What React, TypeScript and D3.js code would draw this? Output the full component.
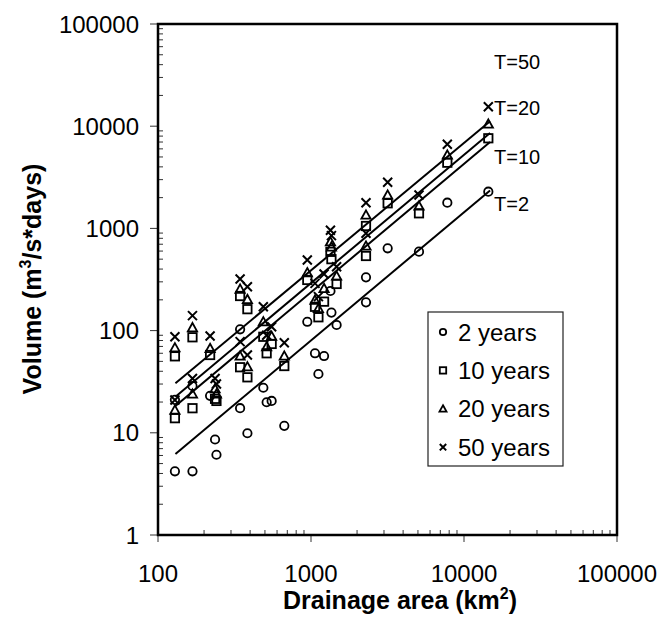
import React from 'react';
import * as d3 from 'd3';

const W = 664, H = 636;

// Tick labels
const xTickValues = [100, 1000, 10000, 100000];
const yTickValues = [1, 10, 100, 1000, 10000, 100000];

// Drainage area of each site (km2)
const areas = [129, 129, 168, 168, 219, 236, 241, 344, 344, 384, 384, 488, 513, 553, 669, 946, 1062, 1118, 1217, 1340, 1360, 1470, 2288, 2288, 3170, 5080, 7780, 14420];
// Volumes (m3/s*days) per return period
const yr2 = [21, 4.2, 28.7, 4.2, 23, 8.6, 6.1, 103, 17.4, null, 9.9, 27.6, 19.9, 20.5, 11.7, 122, 60, 37.6, 56.4, 244, 150, 113.5, 332, 189, 639, 592, 1785, 2287];
const yr10 = [56, 13.9, 86, 17.4, 57.7, 21.5, 20.5, 218, 43.8, 162, 34.9, 87, 60, 74, 45, 313, 171, 135, 192, 590, 500, 286, 1056, 537, 1761, 1405, 4396, 7620];
const yr20 = [68, 16.7, 107, 24, 67, 27, 24, 255, 56.4, 202, 44.3, 122, 69.6, 88, 56.4, 369, 199, 165, 259, 740, 660, 342, 1352, 673, 2122, 1656, 5225, 10510];
const yr50 = [87, 20.9, 140, 34, 88.5, 34, 30, 320, 78, 269, 57.7, 171, 90, 109, 76, 491, 290, 215, 358, 960, 850, 422, 1785, 896, 2825, 2122, 6650, 15520];

// Fitted lines (end points)
const lineAreas = [130, 14800];
const fit2 = [6.2, 2350];
const fit10 = [18.3, 7000];
const fit20 = [22.5, 8600];
const fit50 = [30.5, 11200];

const lineLabels = ['T=50', 'T=20', 'T=10', 'T=2'];
const lineLabelY = [62, 108, 157, 204];

const legendLabels = ['2 years', '10 years', '20 years', '50 years'];

type Shape = 'circle' | 'square' | 'triangle' | 'cross';

function marker(shape: Shape, cx: number, cy: number, s: number, key: string | number) {
  const common = { fill: 'none', stroke: '#000', strokeWidth: 1.8 } as const;
  if (shape === 'circle') return <circle key={key} cx={cx} cy={cy} r={s} {...common} />;
  if (shape === 'square') return <rect key={key} x={cx - s} y={cy - s} width={2 * s} height={2 * s} {...common} />;
  if (shape === 'triangle') {
    const h = s * 1.1;
    return <path key={key} d={`M${cx},${cy - h} L${cx + s * 1.1},${cy + h * 0.8} L${cx - s * 1.1},${cy + h * 0.8} Z`} {...common} strokeLinejoin="miter" />;
  }
  return <path key={key} d={`M${cx - s},${cy - s} L${cx + s},${cy + s} M${cx - s},${cy + s} L${cx + s},${cy - s}`} fill="none" stroke="#000" strokeWidth={2} />;
}

export default function App() {
  const x = d3.scaleLog().domain([100, 100000]).range([158, 617]);
  const y = d3.scaleLog().domain([1, 100000]).range([535, 24]);

  const series: { vals: (number | null)[]; shape: Shape }[] = [
    { vals: yr2, shape: 'circle' },
    { vals: yr10, shape: 'square' },
    { vals: yr20, shape: 'triangle' },
    { vals: yr50, shape: 'cross' },
  ];
  const fits = [fit50, fit20, fit10, fit2];

  const xMinor: number[] = [];
  for (let d = 100; d < 100000; d *= 10) for (let k = 2; k <= 9; k++) xMinor.push(d * k);
  const yMinor: number[] = [];
  for (let d = 1; d < 100000; d *= 10) for (let k = 2; k <= 9; k++) yMinor.push(d * k);

  const line = d3.line<[number, number]>().x(d => x(d[0])).y(d => y(d[1]));
  const font = 'Liberation Sans, Arial, sans-serif';

  return (
    <svg width={W} height={H} style={{ position: 'absolute', left: 0, top: 0, background: '#fff' }} fontFamily={font}>
      <rect x={0} y={0} width={W} height={H} fill="#fff" />
      {/* minor ticks */}
      {xMinor.map((v, i) => (
        <line key={'xm' + i} x1={x(v)} x2={x(v)} y1={535} y2={530} stroke="#333" strokeWidth={1} />
      ))}
      {yMinor.map((v, i) => (
        <line key={'ym' + i} x1={158} x2={163} y1={y(v)} y2={y(v)} stroke="#333" strokeWidth={1} />
      ))}
      {/* major ticks */}
      {xTickValues.map((v, i) => (
        <line key={'xM' + i} x1={x(v)} x2={x(v)} y1={535} y2={542} stroke="#333" strokeWidth={1} />
      ))}
      {yTickValues.map((v, i) => (
        <line key={'yM' + i} x1={150} x2={158} y1={y(v)} y2={y(v)} stroke="#333" strokeWidth={1} />
      ))}
      {/* frame */}
      <rect x={158} y={24} width={459} height={511} fill="none" stroke="#000" strokeWidth={2.5} />
      {/* tick labels */}
      {xTickValues.map((v, i) => (
        <text key={'xl' + i} x={x(v)} y={582} textAnchor="middle" fontSize={24}>{String(v)}</text>
      ))}
      {yTickValues.map((v, i) => (
        <text key={'yl' + i} x={139} y={y(v)} dy="0.36em" textAnchor="end" fontSize={24}>{String(v)}</text>
      ))}
      {/* fitted lines */}
      {fits.map((f, i) => (
        <path key={'fit' + i} d={line([[lineAreas[0], f[0]], [lineAreas[1], f[1]]]) || ''} fill="none" stroke="#000" strokeWidth={2} />
      ))}
      {/* points */}
      {series.map((s, si) =>
        s.vals.map((v, i) => (v == null ? null : marker(s.shape, x(areas[i]), y(v), s.shape === 'cross' ? 4.5 : 4.2, `p${si}-${i}`)))
      )}
      {/* line labels */}
      {lineLabels.map((t, i) => (
        <text key={'tl' + i} x={494} y={lineLabelY[i]} dy="0.36em" fontSize={20}>{t}</text>
      ))}
      {/* legend */}
      <rect x={428} y={312} width={135} height={154} fill="#fff" stroke="#222" strokeWidth={1.2} />
      {legendLabels.map((t, i) => (
        <g key={'lg' + i}>
          {marker(series[i].shape, 443, 332 + i * 38.4, 3.2, 'lm' + i)}
          <text x={458} y={332 + i * 38.4} dy="0.36em" fontSize={24}>{t}</text>
        </g>
      ))}
      {/* axis titles */}
      <text x={400} y={609} textAnchor="middle" fontSize={25} fontWeight="bold">
        Drainage area (km<tspan fontSize={16} dy={-10}>2</tspan><tspan dy={10}>)</tspan>
      </text>
      <text transform="translate(41,279) rotate(-90)" textAnchor="middle" fontSize={25} fontWeight="bold">
        Volume (m<tspan fontSize={16} dy={-10}>3</tspan><tspan dy={10}>/s*days)</tspan>
      </text>
    </svg>
  );
}
